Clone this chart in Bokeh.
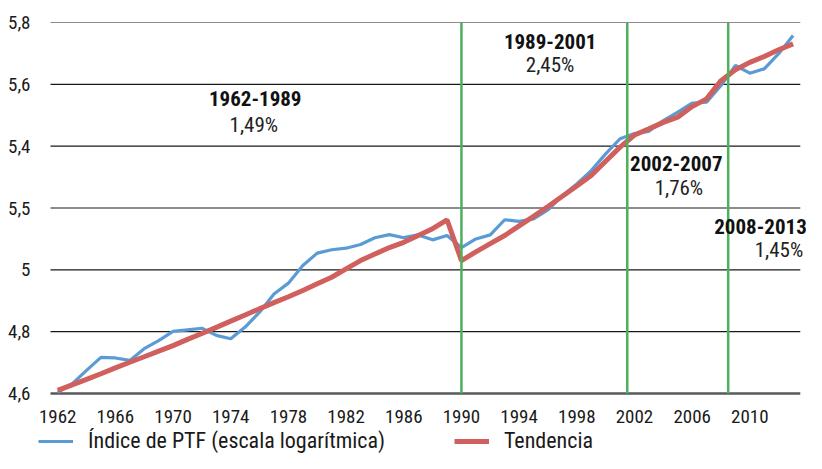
from bokeh.plotting import figure
from bokeh.models import Range1d, FixedTicker, Label, Legend, LegendItem
from bokeh.embed import file_html
from bokeh.resources import INLINE

years = list(range(1962, 2014))
ptf_index = [4.604, 4.631, 4.675, 4.717, 4.715, 4.707, 4.745, 4.771, 4.801, 4.806,
             4.811, 4.788, 4.777, 4.815, 4.863, 4.922, 4.957, 5.014, 5.054, 5.065,
             5.070, 5.082, 5.104, 5.114, 5.104, 5.113, 5.097, 5.111, 5.072, 5.100,
             5.113, 5.162, 5.157, 5.165, 5.194, 5.240, 5.278, 5.321, 5.375, 5.424,
             5.441, 5.448, 5.483, 5.510, 5.539, 5.542, 5.596, 5.661, 5.636, 5.650,
             5.699, 5.758]
trend = [4.610, 4.628, 4.646, 4.664, 4.683, 4.701, 4.719, 4.737, 4.755, 4.775,
         4.794, 4.814, 4.834, 4.854, 4.874, 4.894, 4.913, 4.933, 4.955, 4.976,
         5.003, 5.030, 5.051, 5.072, 5.089, 5.111, 5.133, 5.162, 5.030, 5.058,
         5.085, 5.111, 5.142, 5.173, 5.205, 5.238, 5.271, 5.305, 5.351, 5.397,
         5.436, 5.456, 5.477, 5.494, 5.528, 5.553, 5.612, 5.647, 5.671, 5.690,
         5.712, 5.731]
y_ticks = [4.6, 4.8, 5.0, 5.2, 5.4, 5.6, 5.8]
y_tick_labels = ["4,6", "4,8", "5", "5,5", "5,4", "5,6", "5,8"]
x_ticks = list(range(1962, 2011, 4))
break_years = [1990, 2001.5, 2008.5]
period_names = ["1962-1989", "1989-2001", "2002-2007", "2008-2013"]
period_rates = ["1,49%", "2,45%", "1,76%", "1,45%"]

FONT = "Roboto Condensed"
BLUE = "#5b9bd5"
RED = "#d0605e"
GREEN = "#4cb05c"

y_lo, y_hi = y_ticks[0], y_ticks[-1]
x_lo, x_hi = years[0] - 0.5, years[-1] + 0.5

p = figure(width=806, height=453, output_backend="svg", toolbar_location=None,
           x_range=Range1d(1960.53, 2013.93), y_range=Range1d(4.406, y_hi),
           min_border_left=36, min_border_right=0, min_border_top=22,
           min_border_bottom=0)
p.outline_line_color = None
p.background_fill_color = "white"
p.xgrid.visible = False
p.ygrid.visible = False

# horizontal grid lines and baseline spanning the category extent
n_g = len(y_ticks) - 1
p.segment(x0=[x_lo] * n_g, y0=y_ticks[1:], x1=[x_hi] * n_g, y1=y_ticks[1:],
          line_color="#1a1a1a", line_width=1.2)
p.segment(x0=[x_lo], y0=[y_lo], x1=[x_hi], y1=[y_lo],
          line_color="#595959", line_width=2.5)

p.yaxis.ticker = FixedTicker(ticks=y_ticks)
p.yaxis.major_label_overrides = {t: l for t, l in zip(y_ticks, y_tick_labels)}
p.yaxis.axis_line_color = None
p.yaxis.major_tick_line_color = None
p.yaxis.minor_tick_line_color = None
p.yaxis.major_label_standoff = 0
p.yaxis.major_label_text_font = FONT
p.yaxis.major_label_text_font_size = "19px"
p.yaxis.major_label_text_color = "#1a1a1a"

p.xaxis.fixed_location = y_lo
p.xaxis.ticker = FixedTicker(ticks=x_ticks)
p.xaxis.major_label_overrides = {t: str(t) for t in x_ticks}
p.xaxis.axis_line_color = None
p.xaxis.major_tick_line_color = None
p.xaxis.minor_tick_line_color = None
p.xaxis.major_label_standoff = 10
p.xaxis.major_label_text_font = FONT
p.xaxis.major_label_text_font_size = "19px"
p.xaxis.major_label_text_color = "#1a1a1a"

r_blue = p.line(years, ptf_index, line_color=BLUE, line_width=3.2)
r_red = p.line(years, trend, line_color=RED, line_width=5)

p.segment(x0=break_years, y0=[y_lo] * len(break_years), x1=break_years,
          y1=[y_hi] * len(break_years), line_color=GREEN, line_width=2.5)

name_pos = [(1975.7, 5.554), (1996.15, 5.739), (2004.9, 5.344), (2010.74, 5.140)]
rate_pos = [(1975.6, 5.467), (1996.15, 5.663), (2005.08, 5.265), (2012.02, 5.063)]
for (x, y), t in zip(name_pos, period_names):
    p.add_layout(Label(x=x, y=y, text=t, text_align="center", text_baseline="middle",
                       text_font=FONT, text_font_size="21px", text_font_style="bold",
                       text_color="#111111"))
for (x, y), t in zip(rate_pos, period_rates):
    p.add_layout(Label(x=x, y=y, text=t, text_align="center", text_baseline="middle",
                       text_font=FONT, text_font_size="21px", text_color="#222222"))

legend = Legend(items=[LegendItem(label="Índice de PTF (escala logarítmica)", renderers=[r_blue]),
                       LegendItem(label="Tendencia", renderers=[r_red])],
                orientation="horizontal", location=(2, 0),
                glyph_width=35, glyph_height=20, label_standoff=15, spacing=69,
                padding=0, margin=0, border_line_alpha=0, background_fill_alpha=0,
                label_text_font=FONT, label_text_font_size="22px",
                label_text_color="#1a1a1a")
p.add_layout(legend, "center")

open("out.html", "w").write(file_html(p, INLINE))
